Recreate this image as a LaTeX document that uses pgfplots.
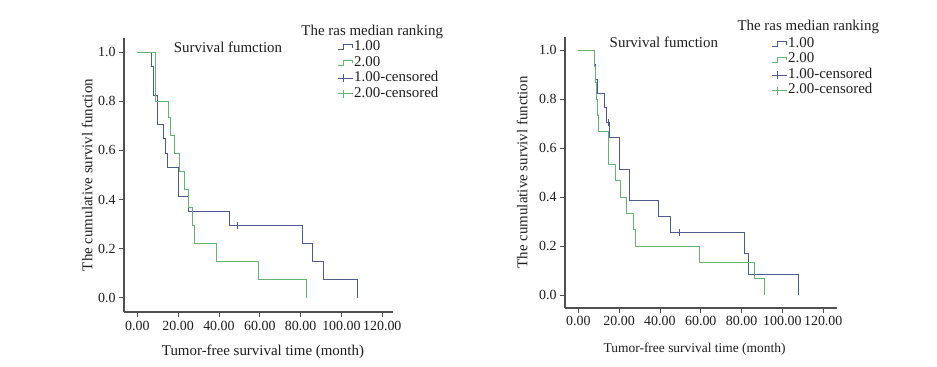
\documentclass[border=0pt]{standalone}
\usepackage{fontspec}
\setmainfont{Liberation Serif}
\usepackage{pgfplots}
\pgfplotsset{compat=1.18}
\definecolor{kmblue}{RGB}{80,90,140}
\definecolor{kmgreen}{RGB}{100,178,116}
\definecolor{axgray}{RGB}{80,80,80}
\definecolor{txt}{RGB}{30,30,30}
\newcommand{\fs}{\fontsize{15}{18}\selectfont}
\newcommand{\ft}{\fontsize{14}{17}\selectfont}
\pgfplotsset{
  kmaxis/.style={
    scale only axis,
    axis lines=left,
    axis line style={-, draw=axgray, line width=1.9bp},
    xtick={0,20,40,60,80,100,120},
    ytick={0,0.2,0.4,0.6,0.8,1.0},
    tick align=outside,
    major tick length=5bp,
    tick style={draw=axgray, line width=0.8bp},
    /pgf/number format/assume math mode=true,
    xticklabel={\pgfmathprintnumber[fixed,fixed zerofill,precision=2]{\tick}},
    yticklabel={\pgfmathprintnumber[fixed,fixed zerofill,precision=1]{\tick}},
    ticklabel style={font=\ft, text=txt},
    label style={font=\fs, text=txt},
    clip=false,
    legend cell align=left,
    legend style={draw=none, fill=none, font=\fs, text=txt, anchor=north west,
      inner sep=0pt, row sep=0pt,
      nodes={inner sep=1bp, text height=10bp, text depth=3.5bp}},
  },
  kmline/.style={const plot, line width=1bp, #1, mark=none,
    legend image code/.code={\draw[#1, line width=1bp] (0bp,-2.5bp) -- (6bp,-2.5bp) -- (6bp,2.5bp) -- (15bp,2.5bp) -- (15bp,-0.5bp);}},
  kmcens/.style={only marks, mark=|, mark size=3.5bp, mark options={draw=#1, line width=1bp},
    legend image code/.code={\draw[#1, line width=1bp] (0bp,0bp) -- (15bp,0bp); \draw[#1, line width=1bp] (6bp,-4bp) -- (6bp,4bp);}},
}
\begin{document}
\begin{tikzpicture}
\useasboundingbox (0,0) rectangle (937bp,367bp);
% ---------------- left panel ----------------
\begin{axis}[kmaxis,
  at={(124bp,54.7bp)}, anchor=south west,
  width=269.3bp, height=274bp,
  xmin=-6.51, xmax=125.4, ymin=-0.0595, ymax=1.057,
  xlabel={Tumor-free survival time (month)},
  ylabel={The cumulative survivl function},
  xlabel style={at={(axis description cs:0.516,-0.145)}, anchor=center},
  ylabel style={at={(axis description cs:-0.137,0.501)}, anchor=center},
  legend style={at={(axis description cs:0.791,0.9956)}},
]
\addplot[kmline=kmblue] coordinates {
 (0,1) (7.0,0.941) (7.9,0.824) (9.8,0.706) (12.7,0.647) (13.7,0.588) (14.9,0.529)
 (20.0,0.412) (25.0,0.353) (45.1,0.294) (80.8,0.221) (86.0,0.147) (91.1,0.0735) (107.9,0)};
\addlegendentry{1.00}
\addplot[kmline=kmgreen] coordinates {
 (0,1) (8.9,0.800) (15.1,0.733) (16.2,0.660) (18.1,0.587) (20.9,0.513) (23.2,0.440)
 (25.0,0.367) (26.9,0.293) (27.9,0.220) (38.7,0.147) (59.3,0.073) (83.1,0)};
\addlegendentry{2.00}
\addplot[kmcens=kmblue] coordinates {(49.0,0.294)};
\addlegendentry{1.00-censored}
\addlegendimage{kmcens=kmgreen}
\addlegendentry{2.00-censored}
\node[font=\fs, text=txt] at (axis description cs:0.386,0.968) {Survival fumction};
\node[font=\fs, text=txt, anchor=west] at (axis description cs:0.646,1.023) {The ras median ranking};
\end{axis}
% ---------------- right panel ----------------
\begin{axis}[kmaxis,
  at={(565bp,59.3bp)}, anchor=south west,
  width=271.7bp, height=271bp,
  xmin=-6.51, xmax=126.6, ymin=-0.052, ymax=1.0556,
  xlabel={Tumor-free survival time (month)},
  ylabel={The cumulative survivl function},
  xlabel style={at={(axis description cs:0.477,-0.152)}, anchor=center, font=\fontsize{13.5}{16}\selectfont},
  ylabel style={at={(axis description cs:-0.158,0.50)}, anchor=center},
  legend style={at={(axis description cs:0.758,1.0018)}},
]
\addplot[kmline=kmblue] coordinates {
 (0,1) (7.7,0.941) (8.3,0.882) (9.3,0.824) (12.7,0.765) (13.8,0.706) (15.5,0.642)
 (20.0,0.513) (25.3,0.385) (39.5,0.321) (45.3,0.257) (81.2,0.171) (83.3,0.0856) (107.9,0)};
\addlegendentry{1.00}
\addplot[kmline=kmgreen] coordinates {
 (0,1) (7.7,0.933) (8.3,0.867) (8.7,0.800) (9.3,0.733) (10.0,0.667) (15.0,0.533)
 (18.0,0.467) (20.9,0.400) (23.4,0.333) (26.9,0.267) (28.1,0.200) (59.3,0.133)
 (86.4,0.067) (91.1,0)};
\addlegendentry{2.00}
\addplot[kmcens=kmblue] coordinates {(14.9,0.706) (49.5,0.257)};
\addlegendentry{1.00-censored}
\addlegendimage{kmcens=kmgreen}
\addlegendentry{2.00-censored}
\node[font=\fs, text=txt] at (axis description cs:0.364,0.979) {Survival fumction};
\node[font=\fs, text=txt, anchor=west] at (axis description cs:0.622,1.037) {The ras median ranking};
\end{axis}
\end{tikzpicture}
\end{document}
